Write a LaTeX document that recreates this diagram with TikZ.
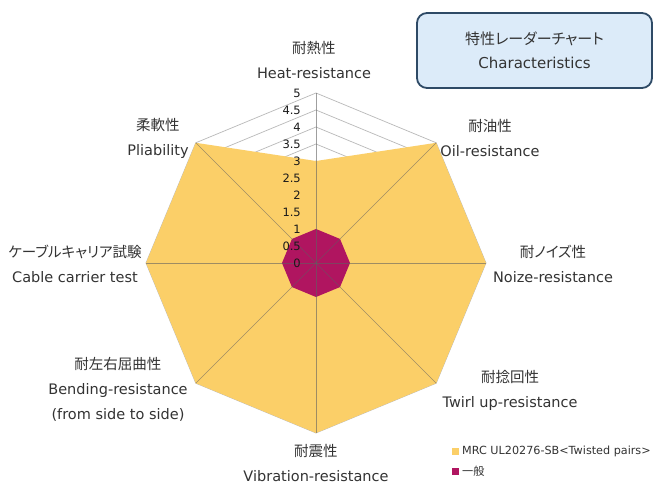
\documentclass[tikz,border=0pt]{standalone}
\usepackage{fontspec}
\setmainfont{DejaVu Sans}
\newfontfamily\jp[RawFeature=+palt]{Noto Sans CJK JP}
\definecolor{chartyellow}{HTML}{FBCF68}
\definecolor{chartmagenta}{HTML}{B01560}
\definecolor{boxfill}{HTML}{DCEBF9}
\definecolor{boxline}{HTML}{2E4A66}
\tikzset{
	grid/.style={gray!55,line width=0.7pt},
	spoke/.style={gray!75!black,opacity=.6,line width=0.7pt},
	axislabel/.style={align=center,text=black!80,font=\fontsize{14.5}{25}\selectfont},
	ticklabel/.style={anchor=east,inner sep=1pt,text=black!90,font=\fontsize{11.5}{11.5}\selectfont},
	legendbox/.style={minimum size=7pt,inner sep=0pt},
	legendtext/.style={anchor=west,inner sep=0pt,text=black!80,font=\fontsize{11.2}{11.2}\selectfont}
}
\begin{document}
\begin{tikzpicture}[x=1pt,y=1pt]
	\fill[white] (-316,-224) rectangle (340,263);
	\useasboundingbox (-316,-224) rectangle (340,263);
	\coordinate (center) at (0,0);
	% web
	\foreach \r in {0.5,1,...,5}
		\draw[grid] (0:\r*34) \foreach \a in {45,90,...,315}{ -- (\a:\r*34)} -- cycle;
	% series
	\fill[chartyellow] (90:102) -- (45:170) -- (0:170) -- (-45:170)
		-- (-90:170) -- (-135:170) -- (180:170) -- (135:170) -- cycle;
	\fill[chartmagenta] (0:34) \foreach \a in {45,90,...,315}{ -- (\a:34)} -- cycle;
	\foreach \a in {0,45,...,315}
		\draw[spoke] (center) -- (\a:170);
	\foreach \v [count=\i from 0] in {0,0.5,1,1.5,2,2.5,3,3.5,4,4.5,5}
		\node[ticklabel] (tick\i) at (-14,\i*17) {\v};
	% axis names
	\node[axislabel] (heat) at (-2,203) {{\jp 耐熱性}\\Heat-resistance};
	\node[axislabel] (oil) at (174,125) {{\jp 耐油性}\\Oil-resistance};
	\node[axislabel] (noise) at (237,-1) {{\jp 耐ノイズ性}\\Noize-resistance};
	\node[axislabel] (twirl) at (194,-127) {{\jp 耐捻回性}\\Twirl up-resistance};
	\node[axislabel] (vibration) at (0,-200) {{\jp 耐震性}\\Vibration-resistance};
	\node[axislabel] (bending) at (-198,-126) {{\jp 耐左右屈曲性}\\Bending-resistance\\(from side to side)};
	\node[axislabel] (cable) at (-241,-1) {{\jp ケーブルキャリア試験}\\Cable carrier test};
	\node[axislabel] (pliability) at (-158,125) {{\jp 柔軟性}\\Pliability};
	% title
	\node[draw=boxline,line width=1.8pt,fill=boxfill,rounded corners=10pt,
		minimum width=235pt,minimum height=75pt,align=center,text=black!80,
		font=\fontsize{15}{24}\selectfont] (title) at (218.5,212.5)
		{{\jp 特性レーダーチャート}\\Characteristics};
	% legend
	\node[legendbox,fill=chartyellow] (keyyellow) at (139,-188) {};
	\node[legendtext] (textyellow) at (146,-188) {MRC UL20276-SB<Twisted pairs>};
	\node[legendbox,fill=chartmagenta] (keymagenta) at (139,-208) {};
	\node[legendtext] (textmagenta) at (146,-208) {{\jp 一般}};
\end{tikzpicture}
\end{document}
